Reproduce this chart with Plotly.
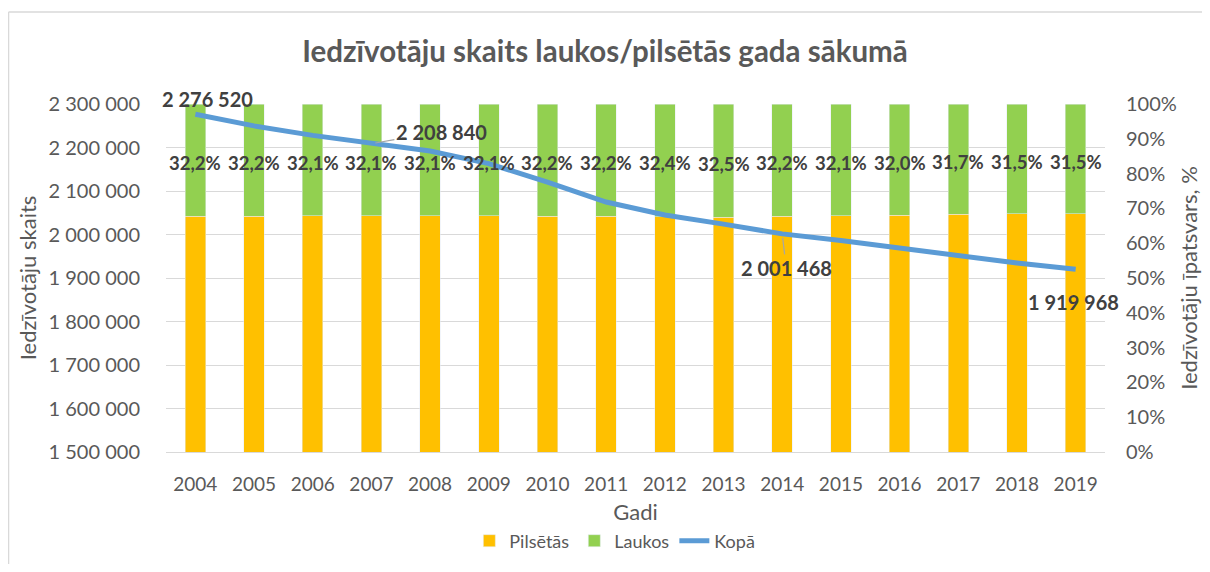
import plotly.graph_objects as go

years = list(range(2004, 2020))
kopa = [2276520, 2249724, 2227874, 2208840, 2191810, 2162834, 2120504, 2074605,
        2044813, 2023825, 2001468, 1986096, 1968957, 1950116, 1934379, 1919968]
laukos_pct = [32.2, 32.2, 32.1, 32.1, 32.1, 32.1, 32.2, 32.2,
              32.4, 32.5, 32.2, 32.1, 32.0, 31.7, 31.5, 31.5]
pilsetas_pct = [round(100 - v, 1) for v in laukos_pct]

# which points of the total line carry a value label, and label offsets (px)
labelled = {2004: (12, -15, False), 2007: (70, -12, True),
            2014: (4, 34, True), 2019: (-2, 33, False)}

FONT = "Lato"
GREY = "#595959"
DARK = "#404040"

fig = go.Figure()
fig.add_trace(go.Bar(x=years, y=[v / 100 for v in pilsetas_pct], name="Pilsētās",
                     marker_color="#FFC000", yaxis="y"))
fig.add_trace(go.Bar(x=years, y=[v / 100 for v in laukos_pct], name="Laukos",
                     marker_color="#92D050", yaxis="y"))
fig.add_trace(go.Scatter(x=years, y=kopa, name="Kopā", mode="lines",
                         line=dict(color="#5B9BD5", width=5), yaxis="y2"))

annotations = []
for yr, lp in zip(years, laukos_pct):
    annotations.append(dict(x=yr, y=1 - lp / 200, xref="x", yref="y",
                            text=f"{lp:.1f}".replace(".", ",") + "%", showarrow=False,
                            yshift=-3, font=dict(family=FONT, size=18.5, color=DARK, weight="bold")))
for yr, val in zip(years, kopa):
    if yr in labelled:
        dx, dy, arrow = labelled[yr]
        txt = f"{val:,}".replace(",", " ")
        if arrow:
            annotations.append(dict(x=yr, y=val, xref="x", yref="y2", text=txt,
                                    showarrow=True, arrowhead=0, arrowwidth=1.2,
                                    arrowcolor="#A6A6A6", ax=dx, ay=dy, standoff=4,
                                    font=dict(family=FONT, size=20, color=DARK, weight="bold")))
        else:
            annotations.append(dict(x=yr, y=val, xref="x", yref="y2", text=txt,
                                    showarrow=False, xshift=dx, yshift=-dy,
                                    font=dict(family=FONT, size=20, color=DARK, weight="bold")))

fig.update_layout(
    width=1194, height=556,
    margin=dict(l=158, r=97, t=96, b=112, autoexpand=False),
    paper_bgcolor="white", plot_bgcolor="white",
    separators=", ",
    barmode="stack", bargap=0.65,
    font=dict(family=FONT, color=GREY, size=18),
    title=dict(text="<b>Iedzīvotāju skaits laukos/pilsētās gada sākumā</b>",
               x=0.5, xref="container", xanchor="center", y=0.922, yanchor="middle",
               font=dict(family=FONT, size=29.5, color=GREY)),
    xaxis=dict(range=[2003.5, 2019.5], tickmode="array", tickvals=years,
               ticktext=[str(y) for y in years], showgrid=False, showline=True,
               linecolor="#D9D9D9", linewidth=1, ticks="", ticklabelstandoff=15,
               automargin=False, tickfont=dict(size=19, color=GREY),
               title=dict(text="Gadi", font=dict(size=22, color=GREY), standoff=10)),
    yaxis=dict(side="right", range=[0, 1], dtick=0.1, tickformat=".0%",
               showgrid=False, zeroline=False, ticklabelstandoff=20, automargin=False,
               tickfont=dict(size=20, color=GREY),
               title=dict(text="Iedzīvotāju īpatsvars, %", font=dict(size=22, color=GREY),
                          standoff=8)),
    yaxis2=dict(overlaying="y", side="left", range=[1500000, 2300000], dtick=100000,
                tickformat=",d", showgrid=True, gridcolor="#D9D9D9", gridwidth=1.3,
                zeroline=False, ticklabelstandoff=25, automargin=False,
                tickfont=dict(size=20, color=GREY),
                title=dict(text="Iedzīvotāju skaits", font=dict(size=22, color=GREY),
                           standoff=5)),
    legend=dict(orientation="h", x=0.478, xanchor="center", y=-0.2557, yanchor="middle",
                font=dict(size=18, color=GREY), traceorder="normal"),
    annotations=annotations,
    shapes=[
        dict(type="line", xref="paper", yref="paper", x0=-0.1677, x1=-0.1677,
             y0=-0.33, y1=1.2644, line=dict(color="#D9D9D9", width=1.5)),
        dict(type="line", xref="paper", yref="paper", x0=-0.1677, x1=1.12,
             y0=1.2644, y1=1.2644, line=dict(color="#D9D9D9", width=1.5)),
    ],
)

fig.write_html("out.html")
